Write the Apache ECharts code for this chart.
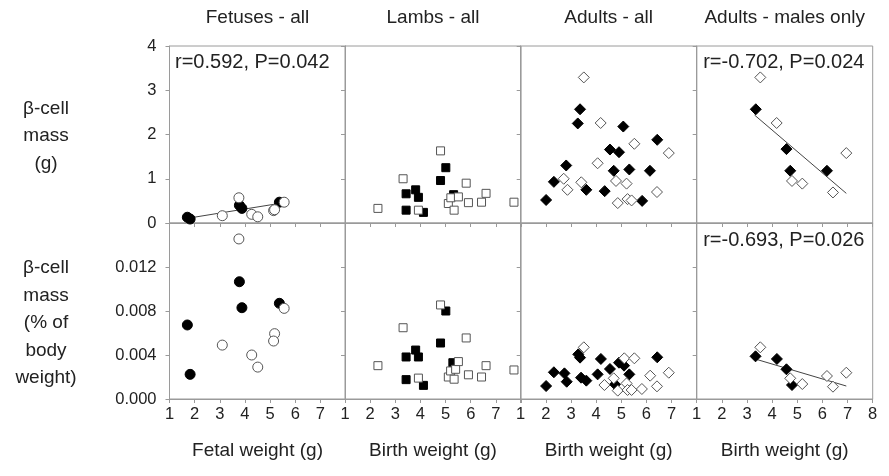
<!DOCTYPE html>
<html>
<head>
<meta charset="utf-8">
<script src="https://cdn.jsdelivr.net/npm/echarts@6/dist/echarts.min.js"></script>
<style>
html,body{margin:0;padding:0;background:#fff;}
#chart{width:889px;height:476px;}
</style>
</head>
<body>
<div id="chart"></div>
<script>
// ---- Data ----
const panelTitles = ['Fetuses - all', 'Lambs - all', 'Adults - all', 'Adults - males only'];
const xNames = ['Fetal weight (g)', 'Birth weight (g)', 'Birth weight (g)', 'Birth weight (g)'];
const topYTicks = [0, 1, 2, 3, 4];
const botYTicks = ['0.000', '0.004', '0.008', '0.012'];

// Fetuses (circles)
const fetusTopFilled = [[1.71,0.13],[1.82,0.09],[3.78,0.40],[3.88,0.33],[5.37,0.47]];
const fetusTopOpen = [[3.76,0.57],[3.10,0.165],[4.27,0.196],[4.51,0.14],[5.14,0.28],[5.18,0.30],[5.56,0.47]];
const fetusTopLine = [[1.65,0.10],[5.56,0.46]];
const fetusBotFilled = [[1.71,0.00673],[1.82,0.00224],[3.78,0.01066],[3.88,0.0083],[5.37,0.0087]];
const fetusBotOpen = [[3.76,0.01455],[3.10,0.0049],[4.27,0.0040],[4.51,0.0029],[5.18,0.00594],[5.14,0.00527],[5.56,0.00824]];

// Lambs (squares)
const lambTopFilled = [[3.43,0.66],[3.43,0.29],[3.81,0.75],[3.92,0.58],[4.12,0.24],[4.80,0.96],[5.01,1.25],[5.32,0.64]];
const lambTopOpen = [[2.31,0.33],[3.31,1.0],[3.92,0.29],[4.80,1.63],[5.11,0.44],[5.21,0.57],[5.34,0.29],[5.51,0.59],[5.82,0.90],[5.91,0.46],[6.43,0.47],[6.61,0.67],[7.72,0.47]];
const lambBotFilled = [[3.43,0.00382],[3.43,0.00176],[3.81,0.00445],[3.92,0.00382],[4.12,0.00124],[4.80,0.00509],[5.01,0.0080],[5.29,0.0033]];
const lambBotOpen = [[2.31,0.00303],[3.31,0.00648],[3.92,0.0019],[4.80,0.00855],[5.11,0.0020],[5.20,0.00255],[5.34,0.0018],[5.40,0.0027],[5.51,0.0034],[5.82,0.00555],[5.91,0.0022],[6.43,0.0020],[6.61,0.00303],[7.72,0.00264]];

// Adults all (diamonds)
const adultTopFilled = [[2.01,0.52],[2.32,0.93],[2.81,1.30],[3.27,2.25],[3.36,2.57],[3.61,0.75],[4.34,0.72],[4.55,1.66],[4.70,1.18],[4.91,1.60],[5.08,2.18],[5.32,1.21],[5.83,0.50],[6.14,1.18],[6.43,1.88]];
const adultTopOpen = [[2.71,1.0],[2.86,0.75],[3.41,0.92],[3.51,3.29],[4.06,1.35],[4.18,2.26],[4.79,0.95],[4.86,0.45],[5.21,0.89],[5.25,0.54],[5.41,0.51],[5.52,1.79],[6.42,0.70],[6.89,1.58]];
const adultBotFilled = [[2.01,0.00118],[2.32,0.00243],[2.74,0.00233],[2.83,0.00157],[3.29,0.00406],[3.36,0.00376],[3.40,0.00194],[3.61,0.00167],[4.06,0.00224],[4.19,0.00364],[4.55,0.00273],[4.75,0.00133],[4.91,0.0033],[5.11,0.00303],[5.32,0.00224],[6.43,0.00379]];
const adultBotOpen = [[3.51,0.0047],[4.33,0.00127],[4.70,0.00188],[4.86,0.00076],[5.12,0.0037],[5.21,0.00142],[5.25,0.00082],[5.41,0.00082],[5.52,0.0037],[5.82,0.00091],[6.15,0.00212],[6.42,0.00115],[6.89,0.00239]];

// Adults males only (diamonds)
const maleTopFilled = [[3.35,2.57],[4.57,1.67],[4.72,1.18],[6.18,1.18]];
const maleTopOpen = [[3.53,3.29],[4.18,2.26],[4.79,0.95],[5.20,0.89],[6.42,0.69],[6.95,1.58]];
const maleTopLine = [[3.30,2.44],[6.95,0.67]];
const maleBotFilled = [[3.34,0.00388],[4.19,0.00364],[4.57,0.0027],[4.79,0.00127]];
const maleBotOpen = [[3.53,0.0047],[4.72,0.00188],[5.20,0.00136],[6.18,0.00209],[6.42,0.00112],[6.95,0.00239]];
const maleBotLine = [[3.32,0.00364],[6.95,0.00118]];

const annotations = [
  {col:0, row:0, text:'r=0.592, P=0.042'},
  {col:3, row:0, text:'r=-0.702, P=0.024'},
  {col:3, row:1, text:'r=-0.693, P=0.026'}
];

// ---- Layout ----
const FONT = '"Liberation Sans", Arial, sans-serif';
const TXT = '#222';
const AX = '#9a9a9a';
const lefts = [169.5, 345, 520.7, 696.7];
const W = 176;
const rows = [{top:46, height:177}, {top:223, height:176}];

const grids = [], xAxes = [], yAxes = [], series = [];
let gi = 0;
const gridIndex = {};
for (let r = 0; r < 2; r++) {
  for (let c = 0; c < 4; c++) {
    gridIndex[r + '_' + c] = gi;
    grids.push({left: lefts[c], top: rows[r].top, width: W, height: rows[r].height,
      show: true, borderColor: AX, borderWidth: 1, backgroundColor: 'transparent', containLabel: false});
    xAxes.push({type:'value', gridIndex: gi, min:1, max:8, interval:1,
      axisLine:{show:true, lineStyle:{color:AX, width:1}},
      axisTick:{show:true, inside:false, length:4, lineStyle:{color:AX}},
      splitLine:{show:false},
      axisLabel:{show: r === 1, fontSize:16.5, color:TXT, fontFamily:FONT, margin:7,
        formatter: (v) => (c < 3 && v === 8) ? '' : String(v)}
    });
    if (r === 0) {
      yAxes.push({type:'value', gridIndex: gi, min:0, max:4, interval:1,
        axisLine:{show:true, lineStyle:{color:AX, width:1}},
        axisTick:{show:true, inside:false, length:4, lineStyle:{color:AX}},
        splitLine:{show:false},
        axisLabel:{show: c === 0, fontSize:16.5, color:TXT, fontFamily:FONT, margin:13,
          formatter: (v) => topYTicks.indexOf(Math.round(v)) >= 0 ? String(Math.round(v)) : ''}
      });
    } else {
      yAxes.push({type:'value', gridIndex: gi, min:0, max:0.016, interval:0.004,
        axisLine:{show:true, lineStyle:{color:AX, width:1}},
        axisTick:{show:true, inside:false, length:4, lineStyle:{color:AX}},
        splitLine:{show:false},
        axisLabel:{show: c === 0, fontSize:16.5, color:TXT, fontFamily:FONT, margin:13,
          formatter: (v) => { const s = v.toFixed(3); return botYTicks.indexOf(s) >= 0 ? s : ''; }}
      });
    }
    gi++;
  }
}

function filled(data, r, c, symbol, size) {
  const g = gridIndex[r + '_' + c];
  series.push({type:'scatter', xAxisIndex:g, yAxisIndex:g, data, symbol, symbolSize:size,
    itemStyle:{color:'#000', borderColor:'#000', borderWidth:1, opacity:1}, silent:true, z:3});
}
function open(data, r, c, symbol, size) {
  const g = gridIndex[r + '_' + c];
  series.push({type:'scatter', xAxisIndex:g, yAxisIndex:g, data, symbol, symbolSize:size,
    itemStyle:{color:'#fff', borderColor:'#555', borderWidth:1, opacity:1}, silent:true, z:4});
}
function line(data, r, c) {
  const g = gridIndex[r + '_' + c];
  series.push({type:'line', xAxisIndex:g, yAxisIndex:g, data, showSymbol:false, symbol:'none',
    lineStyle:{color:'#444', width:1}, silent:true, z:2});
}

line(fetusTopLine, 0, 0);
filled(fetusTopFilled, 0, 0, 'circle', 10);
open(fetusTopOpen, 0, 0, 'circle', 10);
filled(fetusBotFilled, 1, 0, 'circle', 10);
open(fetusBotOpen, 1, 0, 'circle', 10);

filled(lambTopFilled, 0, 1, 'rect', 8);
open(lambTopOpen, 0, 1, 'rect', 8);
filled(lambBotFilled, 1, 1, 'rect', 8);
open(lambBotOpen, 1, 1, 'rect', 8);

filled(adultTopFilled, 0, 2, 'diamond', 11);
open(adultTopOpen, 0, 2, 'diamond', 11);
filled(adultBotFilled, 1, 2, 'diamond', 11);
open(adultBotOpen, 1, 2, 'diamond', 11);

line(maleTopLine, 0, 3);
filled(maleTopFilled, 0, 3, 'diamond', 11);
open(maleTopOpen, 0, 3, 'diamond', 11);
line(maleBotLine, 1, 3);
filled(maleBotFilled, 1, 3, 'diamond', 11);
open(maleBotOpen, 1, 3, 'diamond', 11);

// ---- Text elements ----
const graphics = [];
function txt(text, x, y, align, size, lh) {
  graphics.push({type:'text', x, y, silent:true, z:10,
    style:{text, fill:TXT, font: size + 'px ' + FONT, align, verticalAlign:'middle', lineHeight: lh || size}});
}
for (let c = 0; c < 4; c++) {
  const cx = lefts[c] + W / 2;
  txt(panelTitles[c], cx, 18, 'center', 19);
  txt(xNames[c], cx, 451, 'center', 19);
}
txt('β-cell\nmass\n(g)', 46, 136, 'center', 19, 27.5);
txt('β-cell\nmass\n(% of\nbody\nweight)', 46, 323, 'center', 19, 27.5);
annotations.forEach(a => {
  const x = a.col === 0 ? 175 : lefts[a.col] + 6.5;
  const y = a.row === 0 ? 62 : 240;
  txt(a.text, x, y, 'left', 20);
});

const chart = echarts.init(document.getElementById('chart'), null, {renderer:'canvas'});
chart.setOption({
  animation:false,
  backgroundColor:'#fff',
  grid: grids, xAxis: xAxes, yAxis: yAxes, series, graphic: graphics
});
</script>
</body>
</html>
